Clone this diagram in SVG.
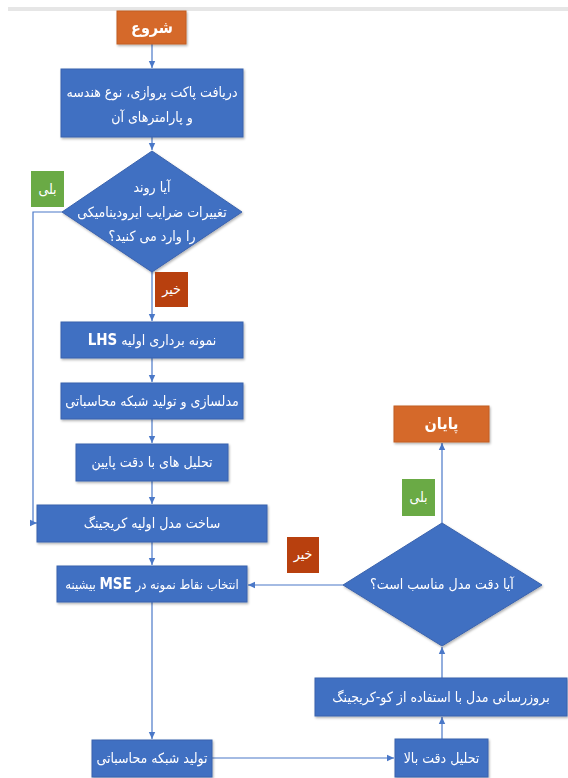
<svg xmlns="http://www.w3.org/2000/svg" width="568" height="778" viewBox="0 0 568 778">
<style>
.b{fill:#416fc2;stroke:#3a63ad;stroke-width:1}
.o{fill:#d5692a;stroke:#c25e22;stroke-width:1}
.r{fill:#b8400e}
.g{fill:#6aaa45}
.t{font-family:"DejaVu Sans Condensed","DejaVu Sans",sans-serif;font-size:14px;fill:#ffffff;text-anchor:middle;direction:rtl}
.tb{font-weight:bold;font-size:16px}
.bo{font-weight:bold;font-size:15px}
.sm{font-size:13px}
.c{fill:none;stroke:#4a78c8;stroke-width:1.2}
</style>
<defs>
<marker id="ah" markerWidth="8" markerHeight="8" refX="7" refY="4" orient="auto" markerUnits="userSpaceOnUse">
<path d="M0,0.8 L7,4 L0,7.2 Z" fill="#4a78c8"/>
</marker>
<filter id="sh" x="-10%" y="-10%" width="125%" height="130%">
<feDropShadow dx="1" dy="1.5" stdDeviation="1.2" flood-color="#000" flood-opacity="0.3"/>
</filter>
</defs>
<rect x="8" y="7" width="560" height="4" fill="#e6e6e6"/>
<g id="connectors">
<path class="c" d="M152,44 V68" marker-end="url(#ah)"/>
<path class="c" d="M152,137 V150" marker-end="url(#ah)"/>
<path class="c" d="M152,272 V321" marker-end="url(#ah)"/>
<path class="c" d="M62,212 H33 V523 H37" marker-end="url(#ah)"/>
<path class="c" d="M152,358 V382" marker-end="url(#ah)"/>
<path class="c" d="M152,419 V443" marker-end="url(#ah)"/>
<path class="c" d="M152,481 V504" marker-end="url(#ah)"/>
<path class="c" d="M152,542 V565" marker-end="url(#ah)"/>
<path class="c" d="M152,602 V739" marker-end="url(#ah)"/>
<path class="c" d="M212,758 H394" marker-end="url(#ah)"/>
<path class="c" d="M442,739 V717" marker-end="url(#ah)"/>
<path class="c" d="M442,678 V647" marker-end="url(#ah)"/>
<path class="c" d="M442,523 V443" marker-end="url(#ah)"/>
<path class="c" d="M343,585 H248" marker-end="url(#ah)"/>
</g>
<g id="start" filter="url(#sh)">
<rect class="o" x="117" y="11" width="69" height="33"/>
<text class="t tb" x="152" y="33">شروع</text>
</g>
<g id="receive" filter="url(#sh)">
<rect class="b" x="61" y="69" width="182" height="68"/>
<text class="t" x="152" y="97">دریافت پاکت پروازی، نوع هندسه</text>
<text class="t" x="152" y="122">و پارامترهای آن</text>
</g>
<g id="decision1" filter="url(#sh)">
<polygon class="b" points="152,151 242,212 152,272 62,212"/>
<text class="t" x="152" y="192">آیا روند</text>
<text class="t" x="152" y="217">تغییرات ضرایب ایرودینامیکی</text>
<text class="t" x="152" y="241">را وارد می کنید؟</text>
</g>
<g id="yes1">
<rect class="g" x="31" y="171" width="33" height="36"/>
<text class="t" x="47.5" y="194">بلی</text>
</g>
<g id="no1">
<rect class="r" x="155" y="272" width="33" height="35"/>
<text class="t" x="171.5" y="294">خیر</text>
</g>
<g id="lhs" filter="url(#sh)">
<rect class="b" x="61" y="322" width="182" height="36"/>
<text class="t" x="152" y="345">نمونه برداری اولیه <tspan class="bo">LHS</tspan></text>
</g>
<g id="modeling" filter="url(#sh)">
<rect class="b" x="61" y="383" width="182" height="36"/>
<text class="t" x="152" y="406">مدلسازی و تولید شبکه محاسباتی</text>
</g>
<g id="lowfi" filter="url(#sh)">
<rect class="b" x="76" y="444" width="152" height="37"/>
<text class="t" x="152" y="467">تحلیل های با دقت پایین</text>
</g>
<g id="kriging" filter="url(#sh)">
<rect class="b" x="37" y="505" width="230" height="37"/>
<text class="t" x="152" y="528">ساخت مدل اولیه کریجینگ</text>
</g>
<g id="mse" filter="url(#sh)">
<rect class="b" x="57" y="566" width="190" height="36"/>
<text class="t sm" x="152" y="589">انتخاب نقاط نمونه در <tspan class="bo">MSE</tspan> بیشینه</text>
</g>
<g id="mesh" filter="url(#sh)">
<rect class="b" x="92" y="740" width="120" height="37"/>
<text class="t" x="152" y="763">تولید شبکه محاسباتی</text>
</g>
<g id="hifi" filter="url(#sh)">
<rect class="b" x="395" y="739" width="93" height="38"/>
<text class="t" x="441.5" y="763">تحلیل دقت بالا</text>
</g>
<g id="update" filter="url(#sh)">
<rect class="b" x="315" y="678" width="252" height="38"/>
<text class="t" x="441" y="702">بروزرسانی مدل با استفاده از کو-کریجینگ</text>
</g>
<g id="decision2" filter="url(#sh)">
<polygon class="b" points="442,523 542,585 442,646 343,585"/>
<text class="t" x="442" y="589">آیا دقت مدل مناسب است؟</text>
</g>
<g id="no2">
<rect class="r" x="287" y="537" width="32" height="36"/>
<text class="t" x="303" y="559">خیر</text>
</g>
<g id="yes2">
<rect class="g" x="402" y="479" width="33" height="37"/>
<text class="t" x="418.5" y="502">بلی</text>
</g>
<g id="end" filter="url(#sh)">
<rect class="o" x="394" y="406" width="95" height="36"/>
<text class="t tb" x="441.5" y="429">پایان</text>
</g>
</svg>
